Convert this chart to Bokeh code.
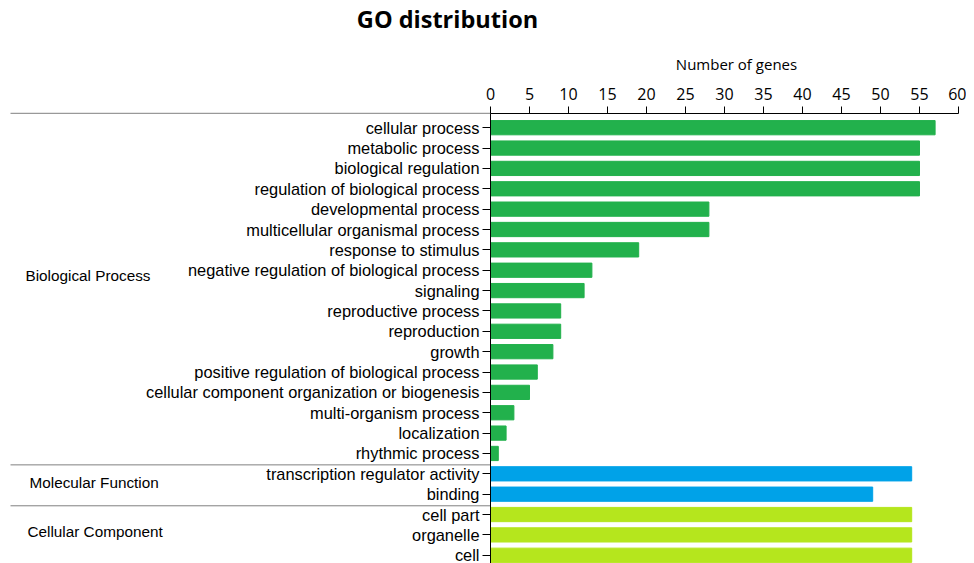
from bokeh.plotting import figure
from bokeh.models import Range1d, LinearAxis, FixedTicker, ColumnDataSource
from bokeh.core.properties import value
from bokeh.embed import file_html
from bokeh.resources import INLINE

terms = ["cellular process", "metabolic process", "biological regulation",
         "regulation of biological process", "developmental process",
         "multicellular organismal process", "response to stimulus",
         "negative regulation of biological process", "signaling",
         "reproductive process", "reproduction", "growth",
         "positive regulation of biological process",
         "cellular component organization or biogenesis",
         "multi-organism process", "localization", "rhythmic process",
         "transcription regulator activity", "binding",
         "cell part", "organelle", "cell"]
counts = [57, 55, 55, 55, 28, 28, 19, 13, 12, 9, 9, 8, 6, 5, 3, 2, 1, 54, 49, 54, 54, 54]
groups = ["Biological Process"] * 17 + ["Molecular Function"] * 2 + ["Cellular Component"] * 3
group_names = ["Biological Process", "Molecular Function", "Cellular Component"]
group_colors = {"Biological Process": "#22B14C", "Molecular Function": "#00A2E8",
                "Cellular Component": "#B5E61D"}
x_ticks = [0, 5, 10, 15, 20, 25, 30, 35, 40, 45, 50, 55, 60]

W, H = 966, 563
px_x = 7.8            # px per gene
row = 20.36           # px per category row
x0_px = 490           # px of x=0
y0_px = 127.2         # px of first row centre


def dx(px):
    return (px - x0_px) / px_x


def dy(py):
    return (py - y0_px) / row


pos = list(range(len(terms)))
src = ColumnDataSource(dict(y=pos, right=counts, term=terms,
                            color=[group_colors[g] for g in groups]))

p = figure(width=W, height=H, output_backend="svg", toolbar_location=None,
           x_axis_type=None, y_axis_type=None,
           min_border=0, min_border_left=0, min_border_right=0,
           min_border_top=0, min_border_bottom=0,
           x_range=Range1d(dx(0), dx(W)),
           y_range=Range1d(dy(H), dy(0)))
p.outline_line_color = None
p.grid.visible = False
p.background_fill_color = "white"
p.border_fill_color = "white"

top_y = dy(112.8)  # axis line position

p.hbar(y="y", left=0, right="right", height=0.70, color="color", source=src)

# x axis on top
xa = LinearAxis(ticker=FixedTicker(ticks=x_ticks), fixed_location=top_y,
                bounds=(0, 60))
xa.axis_line_color = "black"
xa.major_tick_line_color = "black"
xa.major_tick_in = 0
xa.major_tick_out = 7
xa.minor_tick_line_color = None
xa.major_label_text_font = "Open Sans"
xa.major_label_text_font_size = "16px"
xa.major_label_text_color = "black"
xa.major_label_standoff = 6
p.add_layout(xa, "above")

p.text(x=[dx(736)], y=[dy(63)], text=["Number of genes"],
       text_font=value("Open Sans"), text_font_size="15px",
       text_align="center", text_baseline="middle", text_color="black")

# y axis at x = 0
ya = LinearAxis(ticker=FixedTicker(ticks=pos), fixed_location=0,
                bounds=(top_y, dy(H)))
ya.major_label_overrides = {i: t for i, t in enumerate(terms)}
ya.axis_line_color = "black"
ya.major_tick_line_color = "black"
ya.major_tick_in = 0
ya.major_tick_out = 8
ya.minor_tick_line_color = None
ya.major_label_text_font = "Liberation Sans"
ya.major_label_text_font_size = "16.4px"
ya.major_label_text_color = "black"
ya.major_label_standoff = 3
p.add_layout(ya, "left")

# group separators
seps = [top_y, 16.56, 18.57]
p.segment(x0=[dx(10)] * 3, y0=seps, x1=[0] * 3, y1=seps, line_color="#808080", line_width=1)

# group labels
gl_y = [dy(275), dy(482), dy(531)]
gl_x = [dx(25), dx(29), dx(27)]
p.text(x=gl_x, y=gl_y, text=group_names, text_font=value("Liberation Sans"),
       text_font_size="15.3px", text_baseline="middle", text_align="left", text_color="black")

# title
p.text(x=[dx(447)], y=[dy(18)], text=["GO distribution"],
       text_font=value("Open Sans"), text_font_style="bold", text_font_size="23.5px",
       text_align="center", text_baseline="middle", text_color="black")

open("out.html", "w").write(file_html(p, INLINE))
